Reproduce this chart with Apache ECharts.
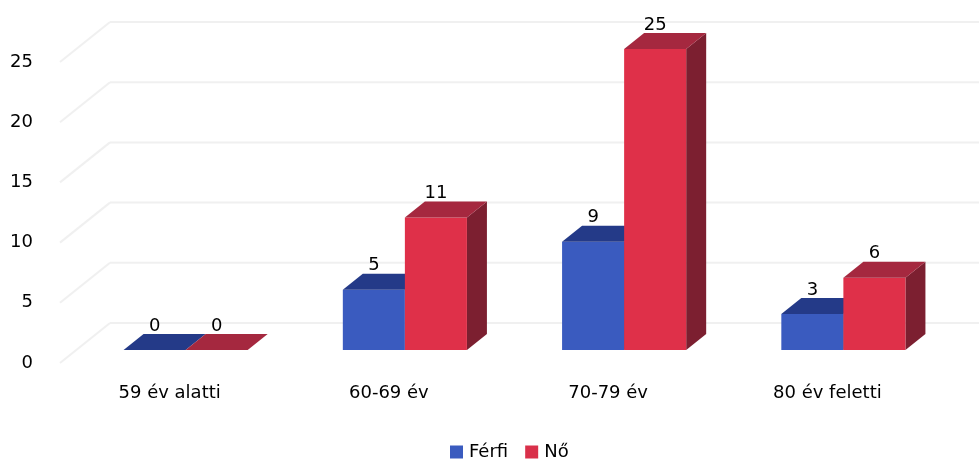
<!DOCTYPE html>
<html><head><meta charset="utf-8">
<script src="https://cdn.jsdelivr.net/npm/echarts@6/dist/echarts.min.js"></script>
<style>html,body{margin:0;padding:0;background:#fff}#c{width:979px;height:461px}</style>
</head><body><div id="c"></div>
<script>
var categories = ['59 év alatti', '60-69 év', '70-79 év', '80 év feletti'];
var ferfi = [0, 5, 9, 3];
var no = [0, 11, 25, 6];
var yTicks = [0, 5, 10, 15, 20, 25];

var FONT = 'DejaVu Sans';
var FS = 18;
var WALL = [50, -40];      // depth of floor / side wall
var BAR_OFF = [16, -13];   // bar front plane offset from axis plane
var BAR_D = [20, -16];     // bar depth
var BAR_FRAC = 0.283;

var chart = echarts.init(document.getElementById('c'));

function wallItem(params, api) {
  var cs = params.coordSys;
  var y = api.coord([0, api.value(1)])[1];
  var x0 = cs.x, x1 = cs.x + WALL[0], yb = y + WALL[1];
  var style = {stroke: '#f0f0f0', lineWidth: 2, fill: null};
  return {type: 'group', children: [
    {type: 'line', shape: {x1: x0, y1: y, x2: x1, y2: yb}, style: style},
    {type: 'line', shape: {x1: x1, y1: yb, x2: cs.x + cs.width + WALL[0] + 20, y2: yb}, style: style}
  ]};
}

function barRenderer(side, cFront, cTop, cSide) {
  return function (params, api) {
    var idx = api.value(0), v = api.value(1);
    var base = api.coord([idx, 0]);
    var top = api.coord([idx, v]);
    var w = api.size([1, 0])[0] * BAR_FRAC;
    var cx = base[0] + BAR_OFF[0];
    var x0 = side === 0 ? cx - w : cx;
    var x1 = x0 + w;
    var yb = base[1] + BAR_OFF[1];
    var yt = top[1] + BAR_OFF[1];
    var dx = BAR_D[0], dy = BAR_D[1];
    var children = [];
    children.push({type: 'polygon', shape: {points: [[x1, yt], [x1 + dx, yt + dy], [x1 + dx, yb + dy], [x1, yb]]}, style: {fill: cSide}});
    if (yb - yt > 0.5) {
      children.push({type: 'rect', shape: {x: x0, y: yt, width: w, height: yb - yt}, style: {fill: cFront}});
    }
    children.push({type: 'polygon', shape: {points: [[x0, yt], [x1, yt], [x1 + dx, yt + dy], [x0 + dx, yt + dy]]}, style: {fill: cTop}});
    children.push({type: 'text', style: {text: String(v), x: (x0 + x1) / 2, y: yt - 24, align: 'center', verticalAlign: 'middle', fill: '#000', font: FS + 'px "' + FONT + '"'}});
    return {type: 'group', children: children};
  };
}

chart.setOption({
  animation: false,
  backgroundColor: '#fff',
  grid: {left: 60, right: 42, top: 62, bottom: 98},
  legend: {
    bottom: 0, left: 450, padding: 0, itemWidth: 13, itemHeight: 13, itemGap: 17, icon: 'rect',
    textStyle: {fontFamily: FONT, fontSize: FS, color: '#000', padding: [0, 0, 0, 1]},
    data: [{name: 'Férfi', itemStyle: {color: '#3a5bbf'}}, {name: 'Nő', itemStyle: {color: '#d9304a'}}]
  },
  xAxis: {
    type: 'category', data: categories,
    axisLine: {show: false}, axisTick: {show: false}, splitLine: {show: false},
    axisLabel: {fontFamily: FONT, fontSize: FS, color: '#000', margin: 21}
  },
  yAxis: {
    type: 'value', min: 0, max: 25, interval: 5,
    axisLine: {show: false}, axisTick: {show: false}, splitLine: {show: false},
    axisLabel: {fontFamily: FONT, fontSize: FS, color: '#000', margin: 27}
  },
  series: [
    {type: 'custom', name: 'walls', silent: true, renderItem: wallItem, clip: false,
     data: yTicks.map(function (t) { return [0, t]; })},
    {type: 'custom', name: 'Férfi', clip: false, itemStyle: {color: '#3a5bbf'},
     renderItem: barRenderer(0, '#3a5bbf', '#243a88', '#1d2f6e'),
     data: ferfi.map(function (v, i) { return [i, v]; })},
    {type: 'custom', name: 'Nő', clip: false, itemStyle: {color: '#d9304a'},
     renderItem: barRenderer(1, '#df3049', '#a5283f', '#7c1f30'),
     data: no.map(function (v, i) { return [i, v]; })}
  ]
});
</script></body></html>
